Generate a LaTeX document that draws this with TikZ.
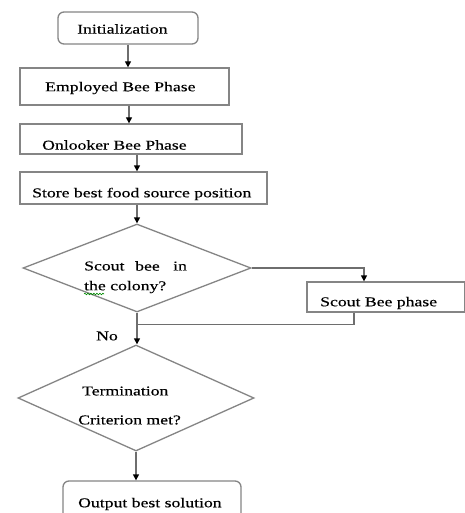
\documentclass[tikz,border=0pt]{standalone}
\usepackage{fontspec}
\setmainfont{Liberation Serif}[FakeStretch=1.31,FakeBold=0.3]
\usetikzlibrary{arrows.meta,shapes.geometric,decorations.pathmorphing}
\definecolor{boxgray}{HTML}{858585}
\definecolor{linegray}{HTML}{6E6E6E}
\begin{document}
\begin{tikzpicture}[x=1pt,y=-1pt,
  box/.style={draw=boxgray, line width=1.3pt, inner sep=0pt, rectangle},
  rbox/.style={box, rounded corners=6pt},
  dia/.style={draw=boxgray, line width=1.3pt, diamond, inner sep=0pt},
  lbl/.style={font=\fontsize{13.5}{15}\selectfont, inner sep=0pt, anchor=west},
  arr/.style={draw=linegray, line width=1.3pt, -{Triangle[width=6pt,length=6pt,color=black]}},
  ln/.style={draw=linegray, line width=1.3pt}]
\useasboundingbox (0,0) rectangle (464,513);
\fill[white] (0,0) rectangle (464,513);

% boxes
\node[rbox, minimum width=140pt, minimum height=32pt] (init) at (128,28) {};
\node[lbl] (tinit) at (77,29) {Initialization};

\node[box, minimum width=209pt, minimum height=37pt] (emp) at (124.5,86.5) {};
\node[lbl] (temp) at (45,88) {Employed Bee Phase};

\node[box, minimum width=222pt, minimum height=30pt] (onl) at (131,139) {};
\node[lbl] (tonl) at (42,145) {Onlooker Bee Phase};

\node[box, minimum width=247pt, minimum height=32pt] (store) at (143.5,188) {};
\node[lbl] (tstore) at (32,194) {Store best food source position};

\node[dia, minimum width=228pt, minimum height=88pt] (d1) at (137,268) {};
\node[lbl] (td1a) at (84,266) {Scout};
\node[lbl] (td1b) at (135,266) {bee};
\node[lbl] (td1c) at (173,266) {in};
\node[lbl] (td1d) at (84,287) {the colony?};

\node[box, minimum width=158pt, minimum height=30pt] (scout) at (386,297) {};
\node[lbl] (tscout) at (320,303) {Scout Bee phase};

\node[dia, minimum width=236pt, minimum height=106pt] (d2) at (136,398) {};
\node[lbl] (td2a) at (82,391) {Termination};
\node[lbl] (td2b) at (78,420) {Criterion met?};

\node[rbox, minimum width=178pt, minimum height=48pt] (out) at (152,505) {};
\node[lbl] (tout) at (78,504) {Output best solution};

\node[lbl] (no) at (96,336) {No};

% spell-check squiggle
\draw[green!55!black, line width=0.6pt, decorate, decoration={snake, amplitude=0.8pt, segment length=3pt}] (84,294) -- (104,294);

% connectors
\draw[arr] (init.south) -- (init.south |- emp.north);
\draw[arr] ([xshift=4.5pt]emp.south) -- ([xshift=4.5pt]emp.south |- onl.north);
\draw[arr] (onl.south -| d1.north) -- (store.north -| d1.north);
\draw[arr] (store.south -| d1.north) -- (d1.north);
\draw[arr] (d1.east) -| ([xshift=-22pt]scout.north);
\coordinate (m) at ([yshift=-12pt]d1.south);
\draw[ln] ([xshift=-32pt]scout.south) |- (m);
\draw[arr] (d1.south) -- (d1.south |- d2.north);
\draw[arr] (d2.south) -- (d2.south |- out.north);
\end{tikzpicture}
\end{document}
